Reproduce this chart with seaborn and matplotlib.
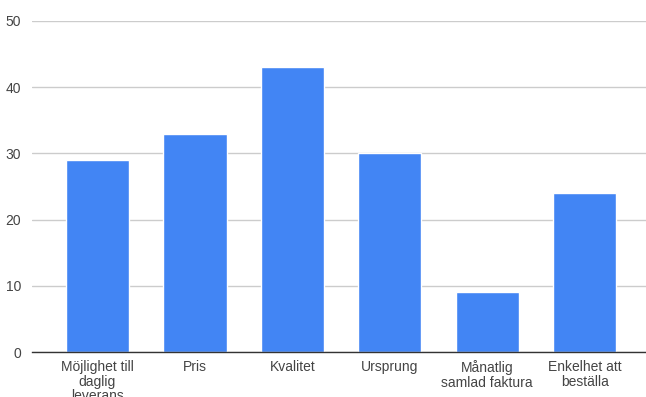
import matplotlib
matplotlib.use("Agg")
import matplotlib.pyplot as plt
import seaborn as sns
import pandas as pd

categories = ["Möjlighet till\ndaglig\nleverans", "Pris", "Kvalitet", "Ursprung",
              "Månatlig\nsamlad faktura", "Enkelhet att\nbeställa"]
values = [29, 33, 43, 30, 9, 24]
yticks = [0, 10, 20, 30, 40, 50]

sns.set_theme(style="white")
plt.rcParams['font.family'] = ['Liberation Sans', 'DejaVu Sans']

df = pd.DataFrame({"cat": categories, "val": values})

fig = plt.figure(figsize=(6.46, 3.97), dpi=100)
ax = fig.add_axes([32/646, 1-352/397, 1-32/646, (352-21)/397])
sns.barplot(data=df, x="cat", y="val", color="#4285F4", saturation=1, width=0.65, ax=ax)

ax.set_xlim(-0.672, 5.63)
ax.set_ylim(0, 50)
ax.set_yticks(yticks)
ax.set_yticklabels([str(t) for t in yticks])
ax.yaxis.grid(True, color="#cccccc", linewidth=1)
ax.set_axisbelow(True)
for s in ["top", "right", "left"]:
    ax.spines[s].set_visible(False)
ax.spines["bottom"].set_color("#333333")
ax.spines["bottom"].set_linewidth(1)
ax.set_xlabel("")
ax.set_ylabel("")
ax.tick_params(axis="both", length=0, labelsize=10, colors="#444444")
ax.tick_params(axis="y", pad=8)
ax.tick_params(axis="x", pad=6)
for lbl in ax.get_xticklabels():
    lbl.set_linespacing(1.05)

fig.savefig("out.png", dpi=100)
